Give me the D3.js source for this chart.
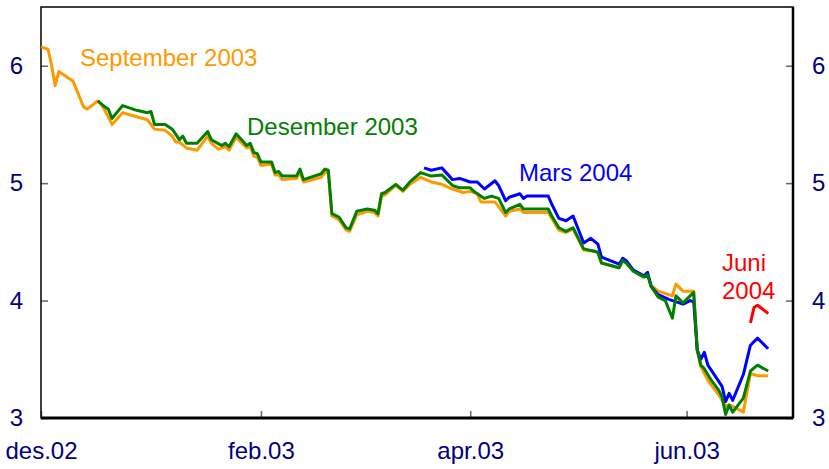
<!DOCTYPE html>
<html>
<head>
<meta charset="utf-8">
<script src="https://cdn.jsdelivr.net/npm/d3@7"></script>
<style>
  body { margin: 0; background: #fff; }
  svg { display: block; }
  .tick text { font-family: "Liberation Sans", Arial, sans-serif; font-size: 24px; fill: #000080; }
  .tick line { stroke: #666; stroke-width: 1.5; }
  .label { font-family: "Liberation Sans", Arial, sans-serif; font-size: 24px; }
</style>
</head>
<body>
<div class="chart"></div>
<script>
// forward rates, percent
const sep2003 = [
  ["2002-12-01",6.16],["2002-12-03",6.14],["2002-12-04",6.00],["2002-12-05",5.83],["2002-12-06",5.95],
  ["2002-12-10",5.87],["2002-12-13",5.65],["2002-12-14",5.63],["2002-12-17",5.70],["2002-12-18",5.67],
  ["2002-12-19",5.62],["2002-12-21",5.50],["2002-12-24",5.60],["2002-12-31",5.54],["2003-01-02",5.46],
  ["2003-01-05",5.45],["2003-01-07",5.40],["2003-01-08",5.35],["2003-01-09",5.35],["2003-01-11",5.30],
  ["2003-01-14",5.28],["2003-01-17",5.40],["2003-01-18",5.34],["2003-01-20",5.29],["2003-01-22",5.31],
  ["2003-01-23",5.28],["2003-01-25",5.39],["2003-01-28",5.30],["2003-01-29",5.31],["2003-01-30",5.23],
  ["2003-01-31",5.22],["2003-02-01",5.15],["2003-02-04",5.16],["2003-02-05",5.07],["2003-02-06",5.07],
  ["2003-02-07",5.03],["2003-02-11",5.04],["2003-02-12",5.09],["2003-02-13",5.01],["2003-02-18",5.05],
  ["2003-02-19",5.09],["2003-02-20",5.09],["2003-02-21",4.72],["2003-02-23",4.69],["2003-02-25",4.60],
  ["2003-02-26",4.59],["2003-02-28",4.73],["2003-03-03",4.76],["2003-03-05",4.75],["2003-03-06",4.72],
  ["2003-03-07",4.89],["2003-03-08",4.90],["2003-03-11",4.98],["2003-03-13",4.93],["2003-03-15",4.99],
  ["2003-03-18",5.05],["2003-03-21",5.01],["2003-03-24",4.99],["2003-03-27",4.95],["2003-03-30",4.92],
  ["2003-04-01",4.93],["2003-04-03",4.91],["2003-04-04",4.84],["2003-04-08",4.84],["2003-04-11",4.72],
  ["2003-04-12",4.76],["2003-04-15",4.78],["2003-04-16",4.75],["2003-04-23",4.75],["2003-04-26",4.60],
  ["2003-04-28",4.58],["2003-04-30",4.61],["2003-05-03",4.43],["2003-05-06",4.42],["2003-05-07",4.41],
  ["2003-05-08",4.32],["2003-05-13",4.28],["2003-05-14",4.34],["2003-05-15",4.32],["2003-05-17",4.25],
  ["2003-05-20",4.20],["2003-05-21",4.22],["2003-05-22",4.13],["2003-05-24",4.08],["2003-05-26",4.06],
  ["2003-05-28",4.04],["2003-05-29",4.14],["2003-05-31",4.08],["2003-06-03",4.08],["2003-06-04",3.58],
  ["2003-06-05",3.44],["2003-06-07",3.32],["2003-06-10",3.20],["2003-06-12",3.10],["2003-06-13",3.11],
  ["2003-06-14",3.10],["2003-06-17",3.05],["2003-06-19",3.38],["2003-06-21",3.36],["2003-06-24",3.36]
];

const des2003 = [
  ["2002-12-17",5.70],["2002-12-19",5.65],["2002-12-20",5.63],["2002-12-21",5.55],["2002-12-24",5.66],
  ["2002-12-28",5.62],["2002-12-31",5.60],["2003-01-01",5.61],["2003-01-02",5.50],["2003-01-05",5.50],
  ["2003-01-07",5.46],["2003-01-09",5.37],["2003-01-10",5.40],["2003-01-11",5.34],["2003-01-14",5.34],
  ["2003-01-17",5.44],["2003-01-18",5.37],["2003-01-21",5.32],["2003-01-22",5.34],["2003-01-23",5.31],
  ["2003-01-25",5.42],["2003-01-28",5.32],["2003-01-29",5.34],["2003-01-30",5.26],["2003-01-31",5.25],
  ["2003-02-01",5.18],["2003-02-04",5.18],["2003-02-05",5.09],["2003-02-06",5.10],["2003-02-07",5.06],
  ["2003-02-11",5.06],["2003-02-12",5.12],["2003-02-13",5.03],["2003-02-18",5.08],["2003-02-19",5.12],
  ["2003-02-20",5.11],["2003-02-21",4.74],["2003-02-23",4.71],["2003-02-25",4.62],["2003-02-26",4.61],
  ["2003-02-28",4.76],["2003-03-03",4.78],["2003-03-05",4.77],["2003-03-06",4.74],["2003-03-07",4.91],
  ["2003-03-08",4.92],["2003-03-11",4.99],["2003-03-13",4.94],["2003-03-15",5.01],["2003-03-18",5.09],
  ["2003-03-21",5.06],["2003-03-24",5.07],["2003-03-27",4.98],["2003-03-29",4.96],["2003-04-01",4.96],
  ["2003-04-02",4.93],["2003-04-05",4.87],["2003-04-07",4.89],["2003-04-09",4.87],["2003-04-11",4.75],
  ["2003-04-12",4.78],["2003-04-15",4.82],["2003-04-16",4.78],["2003-04-23",4.78],["2003-04-24",4.72],
  ["2003-04-26",4.62],["2003-04-28",4.59],["2003-04-30",4.62],["2003-05-03",4.44],["2003-05-06",4.42],
  ["2003-05-07",4.41],["2003-05-08",4.32],["2003-05-13",4.28],["2003-05-14",4.34],["2003-05-15",4.32],
  ["2003-05-17",4.25],["2003-05-20",4.20],["2003-05-21",4.22],["2003-05-22",4.12],["2003-05-24",4.03],
  ["2003-05-26",4.00],["2003-05-28",3.85],["2003-05-29",4.04],["2003-05-31",3.98],["2003-06-03",4.07],
  ["2003-06-04",3.58],["2003-06-05",3.45],["2003-06-06",3.42],["2003-06-08",3.32],["2003-06-10",3.24],
  ["2003-06-11",3.18],["2003-06-12",3.03],["2003-06-13",3.11],["2003-06-14",3.05],["2003-06-17",3.17],
  ["2003-06-19",3.40],["2003-06-21",3.45],["2003-06-24",3.40]
];

const mar2004 = [
  ["2003-03-19",5.13],["2003-03-21",5.11],["2003-03-24",5.13],["2003-03-27",5.03],["2003-03-29",5.04],
  ["2003-04-01",5.01],["2003-04-03",5.01],["2003-04-05",4.95],["2003-04-08",5.02],["2003-04-09",4.98],
  ["2003-04-11",4.85],["2003-04-12",4.88],["2003-04-15",4.91],["2003-04-16",4.87],["2003-04-17",4.89],
  ["2003-04-23",4.89],["2003-04-24",4.82],["2003-04-26",4.70],["2003-04-28",4.68],["2003-04-30",4.72],
  ["2003-05-03",4.49],["2003-05-05",4.53],["2003-05-07",4.48],["2003-05-08",4.37],["2003-05-13",4.31],
  ["2003-05-14",4.36],["2003-05-15",4.34],["2003-05-17",4.26],["2003-05-20",4.21],["2003-05-21",4.24],
  ["2003-05-22",4.12],["2003-05-24",4.05],["2003-05-27",4.01],["2003-05-31",3.97],["2003-06-02",4.00],
  ["2003-06-03",3.99],["2003-06-04",3.58],["2003-06-05",3.50],["2003-06-06",3.56],["2003-06-07",3.45],
  ["2003-06-11",3.27],["2003-06-12",3.14],["2003-06-13",3.21],["2003-06-14",3.15],["2003-06-17",3.37],
  ["2003-06-19",3.62],["2003-06-21",3.68],["2003-06-24",3.59]
];

const jun2004 = [["2003-06-19",3.81],["2003-06-20",3.94],["2003-06-21",3.96],["2003-06-24",3.89]];

const tickDates = ["2002-12-01", "2003-02-01", "2003-04-01", "2003-06-01"];
const tickLabels = ["des.02", "feb.03", "apr.03", "jun.03"];
const yTicks = [3, 4, 5, 6];

const series = [
  { name: "September 2003", data: sep2003, color: "#ff9900", lx: 80, ly: 66, lines: ["September 2003"] },
  { name: "Mars 2004", data: mar2004, color: "#0000ff", lx: 519, ly: 181, lines: ["Mars 2004"] },
  { name: "Desember 2003", data: des2003, color: "#008000", lx: 247, ly: 135, lines: ["Desember 2003"] },
  { name: "Juni 2004", data: jun2004, color: "#ff0000", lx: 722, ly: 271, lines: ["Juni", "2004"] }
];

// margin convention
const W = 829, H = 469;
const margin = { top: 7, right: 36, bottom: 51, left: 41 };
const width = W - margin.left - margin.right,
      height = H - margin.top - margin.bottom;

const parse = d3.timeParse("%Y-%m-%d");

const svg = d3.select(".chart").append("svg")
  .attr("width", W).attr("height", H)
  .append("g")
  .attr("transform", `translate(${margin.left},${margin.top})`);

const x = d3.scaleTime()
  .domain([parse("2002-12-01"), parse("2003-07-01")])
  .range([0, width]);
const y = d3.scaleLinear().domain([3, 6.5]).range([height, 0]);

// axes, ticks pointing inward
const xAxis = d3.axisBottom(x)
  .tickValues(tickDates.map(parse))
  .tickFormat((d, i) => tickLabels[i])
  .tickSizeInner(-7).tickSizeOuter(0).tickPadding(24);
const yAxisL = d3.axisLeft(y).tickValues(yTicks).tickFormat(d3.format("d"))
  .tickSizeInner(-7).tickSizeOuter(0).tickPadding(18);
const yAxisR = d3.axisRight(y).tickValues(yTicks).tickFormat(d3.format("d"))
  .tickSizeInner(-7).tickSizeOuter(0).tickPadding(19);

svg.append("g").attr("class", "axis x-axis")
  .attr("transform", `translate(0,${height})`).call(xAxis)
  .call(g => g.select(".domain").remove());
svg.append("g").attr("class", "axis y-axis").call(yAxisL)
  .call(g => g.select(".domain").remove());
svg.append("g").attr("class", "axis y-axis-r")
  .attr("transform", `translate(${width},0)`).call(yAxisR)
  .call(g => g.select(".domain").remove());

// frame
svg.append("rect").attr("x", 0).attr("y", 0).attr("width", width).attr("height", height)
  .attr("fill", "none").attr("stroke", "#000").attr("stroke-width", 1.5);
svg.append("line").attr("x1", 0).attr("x2", width).attr("y1", height).attr("y2", height)
  .attr("stroke", "#000").attr("stroke-width", 3);
svg.append("line").attr("x1", width).attr("x2", width).attr("y1", 0).attr("y2", height)
  .attr("stroke", "#000").attr("stroke-width", 2.5);

const line = d3.line()
  .x(d => x(parse(d[0])))
  .y(d => y(d[1]));

series.forEach(s => {
  svg.append("path")
    .datum(s.data)
    .attr("d", line)
    .attr("fill", "none")
    .attr("stroke", s.color)
    .attr("stroke-width", 3)
    .attr("stroke-linejoin", "round");

  s.lines.forEach((t, i) => {
    svg.append("text").attr("class", "label")
      .attr("x", s.lx - margin.left)
      .attr("y", s.ly - margin.top + i * 28)
      .attr("fill", s.color)
      .text(t);
  });
});
</script>
</body>
</html>
